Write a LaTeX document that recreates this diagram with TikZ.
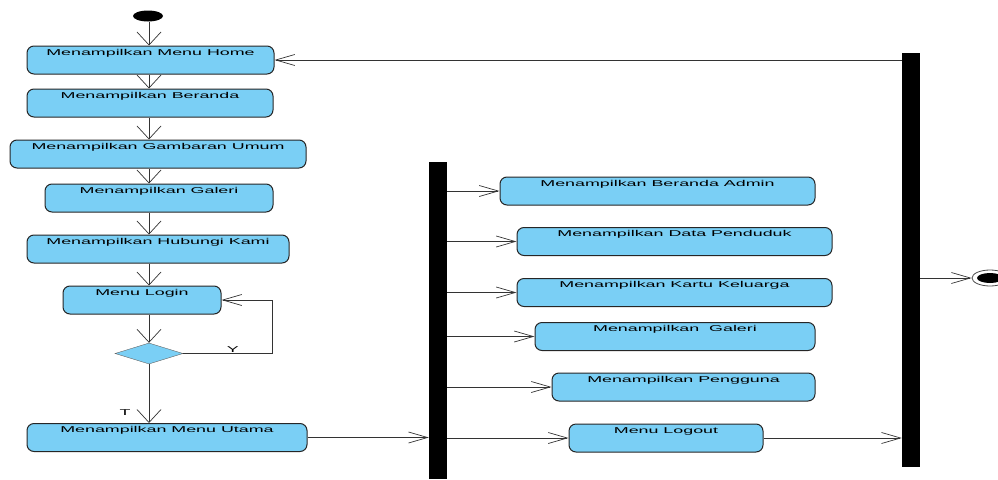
\documentclass[tikz,border=0pt]{standalone}
\usepackage{fontspec}
\setmainfont[FakeStretch=2.1]{Liberation Sans}
\usepackage{tikz}
\usetikzlibrary{positioning, shapes.geometric, arrows.meta}
\definecolor{actblue}{RGB}{122,207,245}

\begin{document}
\begin{tikzpicture}[
        x=1pt, y=-1pt,
        act/.style={rectangle, rounded corners=7pt, draw=black!85, fill=actblue, line width=1pt,
          inner sep=0pt, text height=9pt, text depth=19pt, font=\fontsize{8.5}{10}\selectfont},
        bar/.style={rectangle, fill=black, inner sep=0pt, minimum width=18pt},
        flow/.style={draw=black!80, line width=0.7pt},
        varr/.style={-{Straight Barb[length=13pt,width=24pt]}},
        harr/.style={-{Straight Barb[length=19pt,width=11pt]}},
        lbl/.style={inner sep=1pt, font=\fontsize{8.5}{10}\selectfont},
      ]
      \useasboundingbox (0,0) rectangle (998,479);
      \coordinate (spine) at (149,0);
      \node[ellipse, fill=black, minimum width=30pt, minimum height=11pt, inner sep=0pt] (start) at (148,16) {};
      \node[act, minimum width=247pt] (home) at (150.5,60) {Menampilkan Menu Home};
      \node[act, minimum width=246pt] (beranda) at (150,103) {Menampilkan Beranda};
      \node[act, minimum width=296pt] (gambaran) at (158,154) {Menampilkan Gambaran Umum};
      \node[act, minimum width=228pt] (galeri) at (159,198) {Menampilkan Galeri};
      \node[act, minimum width=262pt] (hubungi) at (158,249) {Menampilkan Hubungi Kami};
      \node[act, minimum width=158pt] (login) at (142,300) {Menu Login};
      \node[diamond, draw=black!60, fill=actblue, minimum width=68pt, minimum height=21pt, inner sep=0pt] (cek) at (149,353.5) {};
      \node[act, minimum width=280pt] (utama) at (167,437.5) {Menampilkan Menu Utama};
      \node[bar, minimum height=317pt] (fork) at (438,320.5) {};
      \node[bar, minimum height=414pt] (join) at (911,260) {};
      \foreach \n/\x/\y/\w/\t in {admin/657.5/191/315/Menampilkan Beranda Admin,
          penduduk/674.5/241.5/315/Menampilkan Data Penduduk,
          kartu/674.5/292.5/315/Menampilkan Kartu Keluarga,
          galeriadm/675/336.5/280/Menampilkan\ \ Galeri,
          pengguna/683.5/387/263/Menampilkan Pengguna,
          logout/666/438/194/Menu Logout}{
        \node[act, minimum width=\w pt] (\n) at (\x,\y) {\t};
        \draw[flow,harr] (fork.east |- \n.west) -- (\n.west);
      }
      \node[ellipse, draw=black!70, line width=0.8pt, minimum width=36pt, minimum height=16pt, inner sep=0pt] (final) at (990,278) {};
      \node[ellipse, fill=black, minimum width=26pt, minimum height=10pt, inner sep=0pt] (finaldot) at (final) {};
      \foreach \a/\b in {start/home, home/beranda, beranda/gambaran, gambaran/galeri, galeri/hubungi, hubungi/login, login/cek}
        {\draw[flow,varr] (\a.south -| spine) -- (\b.north -| spine);}
      \draw[flow,varr] (cek.south) -- node[lbl, pos=0.83, left=17pt] (lblt) {T} (utama.north -| spine);
      \coordinate (loop) at (272,300);
      \draw[flow,harr] (cek.east) -| node[lbl, pos=0.28, above] (lbly) {Y} (loop) -- (login.east);
      \draw[flow,harr] (utama.east) -- (utama.east -| fork.west);
      \draw[flow,harr] (logout.east) -- (logout.east -| join.west);
      \draw[flow,harr] (join.west |- home.east) -- (home.east);
      \draw[flow,harr] (join.east |- final.west) -- (final.west);
    \end{tikzpicture}
\end{document}
